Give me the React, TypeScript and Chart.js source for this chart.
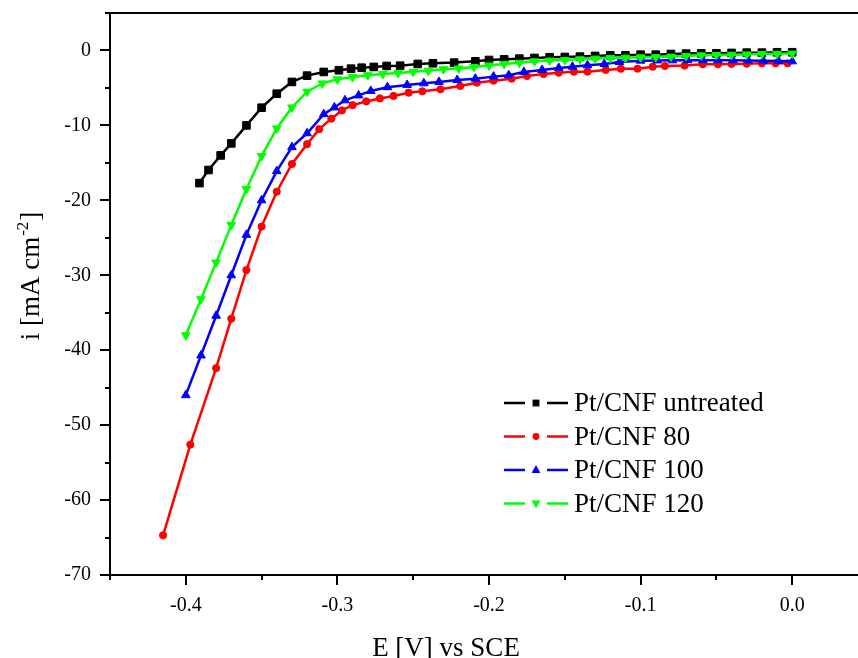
import React, { useEffect, useRef } from 'react';
import { Chart, registerables } from 'chart.js';

Chart.register(...registerables);

// ---- Data (E in V vs SCE, i in mA cm^-2) ----
const untreatedE = [-0.391, -0.385, -0.377, -0.370, -0.360, -0.350, -0.340, -0.330, -0.320, -0.309, -0.299, -0.291, -0.284, -0.276, -0.2675, -0.2586, -0.247, -0.237, -0.223, -0.209, -0.200, -0.190, -0.180, -0.170, -0.160, -0.150, -0.140, -0.130, -0.120, -0.110, -0.100, -0.090, -0.080, -0.070, -0.060, -0.050, -0.040, -0.030, -0.020, -0.010, 0.000];
const untreatedI = [-17.7, -15.95, -14.0, -12.4, -10.0, -7.64, -5.77, -4.2, -3.36, -2.87, -2.64, -2.43, -2.3, -2.2, -2.07, -2.03, -1.80, -1.71, -1.62, -1.45, -1.27, -1.18, -1.09, -1.0, -0.91, -0.87, -0.82, -0.73, -0.65, -0.65, -0.56, -0.56, -0.47, -0.42, -0.38, -0.38, -0.33, -0.29, -0.29, -0.24, -0.24];

const cnf80E = [-0.415, -0.397, -0.380, -0.370, -0.360, -0.350, -0.340, -0.330, -0.320, -0.312, -0.304, -0.297, -0.290, -0.281, -0.272, -0.263, -0.253, -0.244, -0.232, -0.219, -0.208, -0.197, -0.185, -0.175, -0.164, -0.154, -0.144, -0.135, -0.123, -0.113, -0.102, -0.092, -0.084, -0.071, -0.059, -0.049, -0.040, -0.030, -0.020, -0.011, -0.003];
const cnf80I = [-64.7, -52.6, -42.4, -35.8, -29.3, -23.5, -18.85, -15.15, -12.5, -10.5, -9.1, -8.0, -7.3, -6.8, -6.4, -6.07, -5.63, -5.45, -5.18, -4.74, -4.3, -4.03, -3.76, -3.4, -3.14, -2.96, -2.83, -2.83, -2.6, -2.43, -2.43, -2.16, -2.07, -2.02, -1.85, -1.85, -1.8, -1.76, -1.71, -1.71, -1.71];

const cnf100E = [-0.400, -0.390, -0.380, -0.370, -0.360, -0.350, -0.340, -0.330, -0.320, -0.309, -0.302, -0.295, -0.286, -0.278, -0.267, -0.254, -0.243, -0.233, -0.221, -0.209, -0.197, -0.187, -0.177, -0.165, -0.154, -0.145, -0.135, -0.124, -0.114, -0.100, -0.089, -0.079, -0.069, -0.059, -0.049, -0.039, -0.029, -0.019, -0.009, 0.000];
const cnf100I = [-46.0, -40.7, -35.4, -30.0, -24.6, -20.0, -16.1, -12.9, -11.05, -8.5, -7.6, -6.65, -6.0, -5.4, -4.9, -4.6, -4.38, -4.2, -3.94, -3.76, -3.49, -3.31, -2.87, -2.6, -2.34, -2.16, -1.98, -1.8, -1.54, -1.36, -1.33, -1.32, -1.3, -1.3, -1.3, -1.32, -1.35, -1.38, -1.42, -1.45];

const cnf120E = [-0.40, -0.39, -0.38, -0.37, -0.36, -0.35, -0.34, -0.33, -0.32, -0.31, -0.30, -0.29, -0.28, -0.27, -0.26, -0.25, -0.24, -0.23, -0.22, -0.21, -0.20, -0.19, -0.18, -0.17, -0.16, -0.15, -0.14, -0.13, -0.12, -0.11, -0.10, -0.09, -0.08, -0.07, -0.06, -0.05, -0.04, -0.03, -0.02, -0.01, 0.00];
const cnf120I = [-38.0, -33.2, -28.3, -23.3, -18.5, -14.1, -10.4, -7.6, -5.5, -4.4, -3.85, -3.55, -3.3, -3.15, -3.0, -2.85, -2.7, -2.5, -2.4, -2.2, -2.0, -1.8, -1.65, -1.45, -1.35, -1.27, -1.18, -1.09, -1.0, -0.96, -0.91, -0.88, -0.82, -0.73, -0.65, -0.6, -0.56, -0.53, -0.48, -0.45, -0.42];

const seriesLabels = ['Pt/CNF untreated', 'Pt/CNF 80', 'Pt/CNF 100', 'Pt/CNF 120'];
const seriesColors = ['#000000', '#ff0000', '#0000ff', '#00ff00'];
const seriesE = [untreatedE, cnf80E, cnf100E, cnf120E];
const seriesI = [untreatedI, cnf80I, cnf100I, cnf120I];
const seriesMarkers = ['rect', 'circle', 'triangle', 'triangleDown'];

const xTitle = 'E [V] vs SCE';
const yTitleMain = 'i [mA cm';
const yTitleSup = '-2';
const yTitleEnd = ']';

const SERIF = '"Liberation Serif", "Times New Roman", serif';

function drawMarker(ctx: CanvasRenderingContext2D, kind: string, x: number, y: number, s: number) {
  ctx.beginPath();
  if (kind === 'rect') {
    ctx.rect(x - s, y - s, 2 * s, 2 * s);
  } else if (kind === 'circle') {
    ctx.arc(x, y, s, 0, Math.PI * 2);
  } else if (kind === 'triangle') {
    ctx.moveTo(x, y - s * 1.15);
    ctx.lineTo(x + s, y + s * 0.7);
    ctx.lineTo(x - s, y + s * 0.7);
    ctx.closePath();
  } else {
    ctx.moveTo(x, y + s * 1.15);
    ctx.lineTo(x + s, y - s * 0.7);
    ctx.lineTo(x - s, y - s * 0.7);
    ctx.closePath();
  }
  ctx.fill();
}

const decorPlugin = {
  id: 'decor',
  afterDraw(chart: any) {
    const ctx: CanvasRenderingContext2D = chart.ctx;
    const area = chart.chartArea;
    const xs = chart.scales.x;
    const ys = chart.scales.y;
    ctx.save();
    ctx.strokeStyle = '#000';
    ctx.lineWidth = 2;
    // top frame line
    ctx.beginPath();
    ctx.moveTo(area.left, area.top);
    ctx.lineTo(area.right, area.top);
    ctx.stroke();
    // y ticks (major every 10, minor every 5)
    for (let v = -70; v <= 5; v += 5) {
      const py = Math.round(ys.getPixelForValue(v));
      const len = v % 10 === 0 ? 10 : 5;
      ctx.beginPath();
      ctx.moveTo(area.left - len, py);
      ctx.lineTo(area.left, py);
      ctx.stroke();
    }
    // x ticks (major every 0.1, minor every 0.05)
    for (let k = -9; k <= 0; k++) {
      const v = k * 0.05;
      const px = Math.round(xs.getPixelForValue(v));
      const len = k % 2 === 0 ? 10 : 5;
      ctx.beginPath();
      ctx.moveTo(px, area.bottom);
      ctx.lineTo(px, area.bottom + len);
      ctx.stroke();
    }
    // axis titles
    ctx.fillStyle = '#000';
    ctx.font = `27px ${SERIF}`;
    ctx.textAlign = 'center';
    ctx.textBaseline = 'alphabetic';
    ctx.fillText(xTitle, 446, 656);

    ctx.save();
    ctx.translate(39, 276);
    ctx.rotate(-Math.PI / 2);
    ctx.textAlign = 'left';
    ctx.font = `27px ${SERIF}`;
    const w1 = ctx.measureText(yTitleMain).width;
    const w3 = ctx.measureText(yTitleEnd).width;
    ctx.font = `17px ${SERIF}`;
    const w2 = ctx.measureText(yTitleSup).width;
    const total = w1 + w2 + w3 + 2;
    let cx = -total / 2;
    ctx.font = `27px ${SERIF}`;
    ctx.fillText(yTitleMain, cx, 0);
    cx += w1 + 1;
    ctx.font = `17px ${SERIF}`;
    ctx.fillText(yTitleSup, cx, -11);
    cx += w2 + 1;
    ctx.font = `27px ${SERIF}`;
    ctx.fillText(yTitleEnd, cx, 0);
    ctx.restore();

    // legend
    const lx0 = 504;
    const rowY0 = 403;
    const rowGap = 33.5;
    for (let i = 0; i < seriesLabels.length; i++) {
      const y = rowY0 + i * rowGap;
      const c = seriesColors[i];
      ctx.strokeStyle = c;
      ctx.fillStyle = c;
      ctx.lineWidth = 2.5;
      ctx.beginPath();
      ctx.moveTo(lx0, y);
      ctx.lineTo(lx0 + 21, y);
      ctx.moveTo(lx0 + 43, y);
      ctx.lineTo(lx0 + 64, y);
      ctx.stroke();
      const m = seriesMarkers[i];
      drawMarker(ctx, m, lx0 + 32, y, m === 'rect' ? 3.4 : m === 'circle' ? 3.4 : 4.4);
      ctx.fillStyle = '#000';
      ctx.font = `27px ${SERIF}`;
      ctx.textAlign = 'left';
      ctx.textBaseline = 'middle';
      ctx.fillText(seriesLabels[i], lx0 + 70, y + 1);
    }
    ctx.restore();
  },
};

export default function App() {
  const canvasRef = useRef<HTMLCanvasElement | null>(null);

  useEffect(() => {
    const canvas = canvasRef.current;
    if (!canvas) return;
    const datasets = seriesLabels.map((label, idx) => {
      const m = seriesMarkers[idx];
      return {
        label,
        data: seriesE[idx].map((e, j) => ({ x: e, y: seriesI[idx][j] })),
        borderColor: seriesColors[idx],
        backgroundColor: seriesColors[idx],
        pointBackgroundColor: seriesColors[idx],
        pointBorderColor: seriesColors[idx],
        pointBorderWidth: 1,
        borderWidth: 2.5,
        showLine: true,
        tension: 0,
        pointStyle: m === 'triangleDown' ? 'triangle' : m,
        rotation: m === 'triangleDown' ? 180 : 0,
        pointRadius: m === 'rect' ? 5.4 : m === 'circle' ? 3.6 : 5.0,
        order: 3 - idx,
      };
    });
    const chart = new Chart(canvas, {
      type: 'scatter',
      data: { datasets },
      options: {
        animation: false,
        responsive: false,
        layout: { autoPadding: false, padding: { top: 13, left: 0, right: 0, bottom: 0 } },
        plugins: { legend: { display: false }, tooltip: { enabled: false } },
        scales: {
          x: {
            type: 'linear',
            min: -0.45,
            max: 0.0434,
            afterFit: (s: any) => {
              s.height = 83;
              s.paddingLeft = 0;
              s.paddingRight = 0;
              s.paddingTop = 0;
              s.paddingBottom = 0;
            },
            grid: { drawOnChartArea: false, drawTicks: true, tickLength: 10, color: 'rgba(0,0,0,0)' },
            border: { display: true, color: '#000', width: 2 },
            ticks: {
              stepSize: 0.1,
              includeBounds: false,
              padding: 9,
              color: '#000',
              font: { family: SERIF, size: 20 },
              maxRotation: 0,
              autoSkip: false,
              callback: (v: any) => Number(v).toFixed(1),
            },
          },
          y: {
            type: 'linear',
            min: -70,
            max: 5,
            afterFit: (s: any) => {
              s.width = 110;
              s.paddingLeft = 0;
              s.paddingRight = 0;
              s.paddingTop = 0;
              s.paddingBottom = 0;
            },
            grid: { drawOnChartArea: false, drawTicks: true, tickLength: 10, color: 'rgba(0,0,0,0)' },
            border: { display: true, color: '#000', width: 2 },
            ticks: {
              stepSize: 10,
              includeBounds: false,
              padding: 9,
              color: '#000',
              font: { family: SERIF, size: 20 },
              autoSkip: false,
              callback: (v: any) => String(Math.round(Number(v))),
            },
          },
        },
      },
      plugins: [decorPlugin],
    } as any);
    return () => chart.destroy();
  }, []);

  return (
    <div style={{ position: 'fixed', left: 0, top: 0, width: 858, height: 658, background: '#fff' }}>
      <canvas ref={canvasRef} width={858} height={658} style={{ display: 'block' }} />
    </div>
  );
}
